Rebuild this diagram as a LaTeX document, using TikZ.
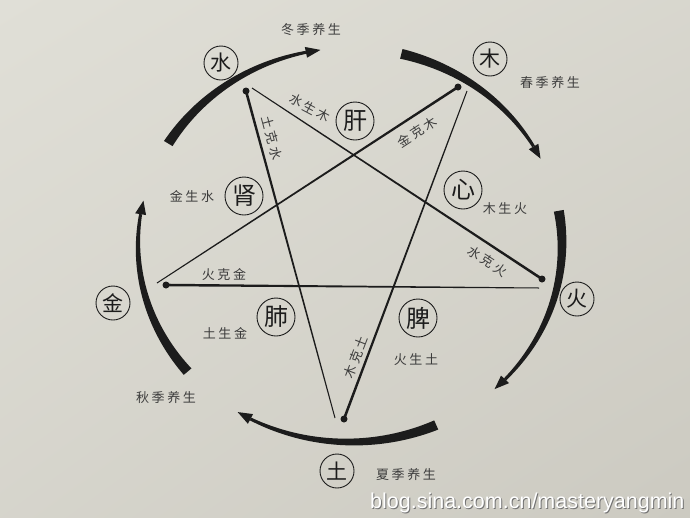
\documentclass[tikz,border=0pt]{standalone}
\usepackage{fontspec}
\setmainfont{Liberation Sans}
\newfontfamily\cjk{Noto Sans CJK SC}
\newfontfamily\cjksp[LetterSpace=20]{Noto Sans CJK SC}
\usetikzlibrary{calc,shadings}
\definecolor{bgA}{RGB}{224,223,215}
\definecolor{bgB}{RGB}{204,202,193}
\definecolor{ink}{RGB}{28,28,28}
\definecolor{txt}{RGB}{60,60,60}

% tapered clockwise arc on the ellipse, thick at #1, arrow at #2 (degrees)
\newcommand\taperarc[2]{%
  \pgfmathsetmacro\as{#1}%
  \pgfmathsetmacro\ab{#2+4}%
  \pgfmathsetmacro\ae{#2}%
  \fill[ink] plot[domain=\as:\ab,samples=50,variable=\t]
     ({350+(212+(1.5+3.5*(\t-\ab)/(\as-\ab)))*cos(\t)},{245-(197+(1.5+3.5*(\t-\ab)/(\as-\ab)))*sin(\t)})
   -- plot[domain=\ab:\as,samples=50,variable=\t]
     ({350+(212-(1.5+3.5*(\t-\ab)/(\as-\ab)))*cos(\t)},{245-(197-(1.5+3.5*(\t-\ab)/(\as-\ab)))*sin(\t)})
   -- cycle;
  \fill[ink] ({350+212*cos(\ae)},{245-197*sin(\ae)})
     -- ({350+217.5*cos(\ab)},{245-202.5*sin(\ab)})
     -- ({350+206.5*cos(\ab)},{245-191.5*sin(\ab)}) -- cycle;
}
% tapered straight connector, thick at #1 (dot), thin at #2
\newcommand\taperline[2]{%
  \fill[ink] ($(#1)!1.3pt!90:(#2)$) -- ($(#1)!1.3pt!-90:(#2)$)
     -- ($(#2)!0.5pt!90:(#1)$) -- ($(#2)!0.5pt!-90:(#1)$) -- cycle;
}

\begin{document}
\begin{tikzpicture}[x=1pt,y=-1pt,
  elem/.style={circle, draw=ink, line width=0.9pt, minimum size=34pt, inner sep=0pt,
     font=\cjk\fontsize{21}{21}\selectfont, text=ink},
  organ/.style={elem, minimum size=38pt, font=\cjk\fontsize{24}{24}\selectfont},
  lbl/.style={font=\cjksp\fontsize{13}{13}\selectfont, text=txt, inner sep=0pt},
  dotc/.style={circle, fill=ink, minimum size=7pt, inner sep=0pt},
]
\useasboundingbox (0,0) rectangle (690,517);
\shade[upper left=bgA, upper right=bgA!60!bgB, lower left=bgA!50!bgB, lower right=bgB] (0,0) rectangle (690,517);

% seasonal arcs
\taperarc{149}{98}
\taperarc{76}{26}
\taperarc{10}{-47}
\taperarc{-66}{-122}
\taperarc{-140}{-193}

% star vertices and free ends
\coordinate (vS) at (246,91);
\coordinate (vM) at (458,87);
\coordinate (vH) at (542,279);
\coordinate (vT) at (344,419);
\coordinate (vJ) at (166,285);
\coordinate (eTS) at (335,418);
\coordinate (eSH) at (252,88);
\coordinate (eHJ) at (539,288);
\coordinate (eJM) at (157,283);
\coordinate (eMT) at (467,91);

\taperline{vS}{eTS}
\taperline{vH}{eSH}
\taperline{vJ}{eHJ}
\taperline{vM}{eJM}
\taperline{vT}{eMT}

\node[dotc] (dS) at (vS) {};
\node[dotc] (dM) at (vM) {};
\node[dotc] (dH) at (vH) {};
\node[dotc] (dT) at (vT) {};
\node[dotc] (dJ) at (vJ) {};

% element circles
\node[elem] (shui) at (221,63) {水};
\node[elem] (mu)   at (490,59) {木};
\node[elem] (huo)  at (577,299) {火};
\node[elem] (tu)   at (337,471) {土};
\node[elem] (jin)  at (113,303) {金};

% organ circles
\node[organ] (gan)  at (355,121) {肝};
\node[organ] (xin)  at (463,190) {心};
\node[organ] (pi)   at (418,318) {脾};
\node[organ] (fei)  at (276,317) {肺};
\node[organ] (shen) at (244,196) {肾};

% season labels
\node[lbl] (dong)  at (311,30)  {冬季养生};
\node[lbl] (chun)  at (550,83)  {春季养生};
\node[lbl] (qiu)   at (166,398) {秋季养生};
\node[lbl] (xia)   at (406,475) {夏季养生};

% relation labels
\node[lbl, rotate=-28] (l1) at (310,108) {水生木};
\node[lbl, rotate=33]  (l2) at (417,132) {金克木};
\node[lbl]             (l3) at (505,209) {木生火};
\node[lbl, rotate=-33] (l4) at (488,261) {水克火};
\node[lbl]             (l5) at (192,197) {金生水};
\node[lbl, rotate=-75] (l6) at (272,138) {土克水};
\node[lbl]             (l7) at (224,275) {火克金};
\node[lbl]             (l8) at (225,333) {土生金};
\node[lbl, rotate=69]  (l9) at (356,357) {木克土};
\node[lbl]             (l10) at (416,360) {火生土};

% watermark
\node[anchor=base west, inner sep=0pt, font=\fontsize{21.5}{21.5}\selectfont, text=black!55] (wmshadow) at (371,509) {blog.sina.com.cn/masteryangmin};
\node[anchor=base west, inner sep=0pt, font=\fontsize{21.5}{21.5}\selectfont, text=white] (wm) at (370,508) {blog.sina.com.cn/masteryangmin};
\end{tikzpicture}
\end{document}
